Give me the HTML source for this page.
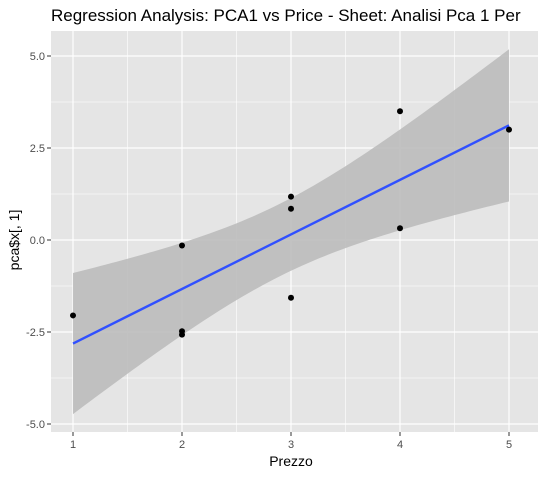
<!DOCTYPE html>
<html><head><meta charset="utf-8"><style>
body{margin:0;background:#fff;width:538px;height:473px;overflow:hidden}
svg{font-family:"Liberation Sans",Arial,sans-serif}
</style></head><body>
<svg id="chart" width="538" height="473">
<text x="51" y="21" font-size="17" fill="#000">Regression Analysis: PCA1 vs Price - Sheet: Analisi Pca 1 Per</text>
<rect x="51" y="31" width="487" height="401" fill="#e5e5e5"/>
<g id="grid"></g><g id="band"></g><g id="marks"></g><g id="axes"></g>
<text x="291" y="466" font-size="14" text-anchor="middle" fill="#000">Prezzo</text>
<text transform="translate(19,240) rotate(-90)" font-size="14" text-anchor="middle" fill="#000">pca$x[, 1]</text>
</svg>
<script>
const xs=[1,2,2,2,3,3,3,4,4,5];
const ys=[-2.05,-0.15,-2.48,-2.57,1.18,0.85,-1.57,3.5,0.32,3.0];
const xTicks=[1,2,3,4,5];
const yTicks=[-5,-2.5,0,2.5,5];
const yTickLabels=["-5.0","-2.5","0.0","2.5","5.0"];
const X=v=>73+(v-1)*109;
const Y=v=>240-v*36.8;
const NS="http://www.w3.org/2000/svg";
function mk(p,t,a){const e=document.createElementNS(NS,t);for(const k in a)e.setAttribute(k,a[k]);document.getElementById(p).appendChild(e);return e;}
[1.5,2.5,3.5,4.5].forEach(v=>{const e=mk('grid','line',{x1:X(v),x2:X(v),y1:31,y2:432,stroke:'#fff','stroke-width':0.6});

});
[-3.75,-1.25,1.25,3.75].forEach(v=>{const e=mk('grid','line',{x1:51,x2:538,y1:Y(v),y2:Y(v),stroke:'#fff','stroke-width':0.6});

});
xTicks.forEach(v=>{const e=mk('grid','line',{x1:X(v),x2:X(v),y1:31,y2:432,stroke:'#fff','stroke-width':1.2});


const t=mk('axes','line',{x1:X(v),x2:X(v),y1:432,y2:436,stroke:'#333'});


const l=mk('axes','text',{x:X(v),y:448,'font-size':11,fill:'#4d4d4d','text-anchor':'middle'});l.textContent=v;

});
yTicks.forEach((v,i)=>{const e=mk('grid','line',{x1:51,x2:538,y1:Y(v),y2:Y(v),stroke:'#fff','stroke-width':1.2});


const t=mk('axes','line',{x1:47,x2:51,y1:Y(v),y2:Y(v),stroke:'#333'});


const l=mk('axes','text',{x:45,y:Y(v)+4,'font-size':11,fill:'#4d4d4d','text-anchor':'end'});l.textContent=yTickLabels[i];

});
const n=xs.length,mx=xs.reduce((a,b)=>a+b)/n,my=ys.reduce((a,b)=>a+b)/n;
let sxx=0,sxy=0;xs.forEach((x,i)=>{sxx+=(x-mx)**2;sxy+=(x-mx)*(ys[i]-my);});
const b=sxy/sxx,a=my-b*mx;let sse=0;xs.forEach((x,i)=>{sse+=(ys[i]-a-b*x)**2;});
const s=Math.sqrt(sse/(n-2)),t=2.306;
const lo=Math.min(...xs),hi=Math.max(...xs);let up=[],dn=[];
for(let k=0;k<=80;k++){const x=lo+(hi-lo)*k/80,f=a+b*x,se=s*Math.sqrt(1/n+(x-mx)**2/sxx);up.push(X(x)+','+Y(f+t*se));dn.unshift(X(x)+','+Y(f-t*se));}
const band=mk('band','polygon',{points:up.concat(dn).join(' '),fill:'#bdbdbd','fill-opacity':0.92});


const ln=mk('marks','line',{x1:X(lo),y1:Y(a+b*lo),x2:X(hi),y2:Y(a+b*hi),stroke:'#3050ff','stroke-width':2.4});


xs.forEach((x,i)=>{const c=mk('marks','circle',{cx:X(x),cy:Y(ys[i]),r:3,fill:'#000'});

});
</script>
</body></html>
